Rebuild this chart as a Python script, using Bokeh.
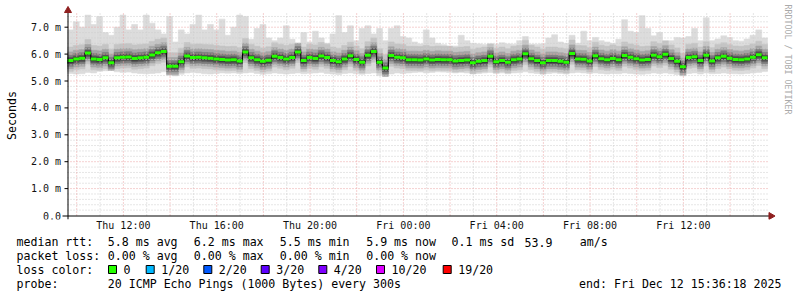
import numpy as np
from bokeh.plotting import figure
from bokeh.layouts import column
from bokeh.models import Range1d, FixedTicker
from bokeh.core.properties import value
from bokeh.embed import file_html
from bokeh.resources import INLINE

# ---------------- data ----------------
# 15-minute bins starting Thu 09:36:18, 30 hours, values in ms
median_rtt = [
    5.76, 5.82, 5.85, 6.04, 5.82, 5.80, 5.86, 5.68, 5.86, 5.88, 5.89, 5.84, 5.86, 5.88, 5.97,
    6.05, 6.10, 5.55, 5.55, 5.72, 5.93, 5.87, 5.88, 5.86, 5.85, 5.82, 5.80, 5.78, 5.79, 5.74,
    6.08, 5.86, 5.79, 5.73, 5.77, 5.92, 5.87, 5.82, 5.87, 6.08, 5.76, 5.87, 5.84, 5.93, 5.87,
    5.76, 5.72, 5.82, 5.94, 5.80, 5.70, 5.96, 6.10, 5.70, 5.48, 5.95, 5.88, 5.86, 5.79, 5.79,
    5.78, 5.82, 5.78, 5.80, 5.79, 5.79, 5.74, 5.76, 5.78, 5.68, 5.73, 5.76, 5.92, 5.72, 5.76,
    5.70, 5.79, 5.82, 6.01, 5.83, 5.76, 5.68, 5.76, 5.76, 5.73, 5.70, 6.02, 5.82, 5.81, 5.74,
    5.94, 5.83, 5.79, 5.84, 5.79, 5.95, 5.88, 5.83, 5.78, 5.80, 5.96, 5.90, 5.99, 5.84, 5.73,
    5.53, 5.87, 5.90, 5.76, 5.96, 5.74, 5.86, 5.92, 5.85, 5.80, 5.79, 5.82, 5.88, 5.98, 5.86,
]
max_rtt = [
    6.90, 7.20, 7.00, 7.45, 7.10, 7.40, 6.80, 6.70, 7.00, 7.45, 6.90, 7.10, 6.90, 7.45, 7.15,
    6.90, 6.75, 7.40, 6.45, 6.90, 6.75, 7.10, 7.45, 6.90, 7.10, 6.90, 7.30, 6.70, 7.00, 7.45,
    7.40, 6.55, 6.95, 7.10, 6.60, 6.50, 6.60, 7.05, 6.55, 6.40, 6.80, 6.45, 6.85, 6.60, 6.40,
    6.75, 7.43, 6.80, 7.05, 6.50, 6.95, 7.05, 6.75, 6.95, 6.50, 6.95, 7.05, 6.65, 6.60, 6.45,
    6.38, 6.90, 6.60, 6.40, 6.35, 6.30, 6.30, 6.70, 6.50, 6.40, 6.38, 6.36, 6.38, 6.37, 6.42,
    6.38, 6.37, 6.50, 6.65, 6.37, 6.37, 6.38, 6.60, 6.72, 6.45, 6.40, 6.70, 6.40, 6.85, 6.50,
    6.62, 6.50, 6.45, 6.40, 6.55, 7.28, 6.85, 6.80, 7.43, 6.95, 6.68, 6.80, 6.50, 6.50, 6.62,
    6.60, 6.65, 6.95, 6.50, 7.35, 6.50, 6.56, 6.68, 6.62, 6.50, 6.48, 6.56, 6.70, 6.90, 6.60,
]
min_rtt = [
    5.28, 5.26, 5.27, 5.32, 5.30, 5.36, 5.38, 5.40, 5.34, 5.32, 5.33, 5.30, 5.28, 5.27, 5.28,
    5.30, 5.34, 5.22, 5.20, 5.25, 5.30, 5.32, 5.30, 5.27, 5.26, 5.28, 5.30, 5.29, 5.30, 5.28,
    5.30, 5.32, 5.28, 5.25, 5.27, 5.30, 5.28, 5.26, 5.28, 5.30, 5.27, 5.29, 5.30, 5.32, 5.28,
    5.26, 5.24, 5.28, 5.30, 5.27, 5.25, 5.28, 5.30, 5.20, 5.18, 5.26, 5.30, 5.28, 5.30, 5.32,
    5.33, 5.30, 5.32, 5.34, 5.33, 5.32, 5.30, 5.32, 5.30, 5.26, 5.28, 5.30, 5.32, 5.28, 5.30,
    5.27, 5.30, 5.31, 5.34, 5.30, 5.28, 5.25, 5.28, 5.30, 5.28, 5.26, 5.30, 5.32, 5.30, 5.28,
    5.30, 5.28, 5.26, 5.28, 5.27, 5.30, 5.28, 5.26, 5.25, 5.27, 5.30, 5.28, 5.30, 5.27, 5.24,
    5.20, 5.28, 5.30, 5.26, 5.30, 5.27, 5.28, 5.30, 5.28, 5.27, 5.26, 5.28, 5.30, 5.32, 5.35,
]
x_tick_hours = [12, 16, 20, 24, 28, 32, 36]
x_tick_labels = ["Thu 12:00", "Thu 16:00", "Thu 20:00", "Fri 00:00", "Fri 04:00", "Fri 08:00", "Fri 12:00"]
y_tick_values = [0, 1, 2, 3, 4, 5, 6, 7]
y_tick_labels = ["0.0", "1.0 m", "2.0 m", "3.0 m", "4.0 m", "5.0 m", "6.0 m", "7.0 m"]

loss_names = ["0", "1/20", "2/20", "3/20", "4/20", "10/20", "19/20"]
loss_colors = ["#26ff00", "#00b8ff", "#0059ff", "#5e00ff", "#7e00ff", "#dd00ff", "#ff0000"]

row1 = ["median rtt:", "5.8 ms avg", "6.2 ms max", "5.5 ms min", "5.9 ms now", "0.1 ms sd", "53.9", "am/s"]
row2 = ["packet loss:", "0.00 % avg", "0.00 % max", "0.00 % min", "0.00 % now"]
loss_label = "loss color:"
probe_label = "probe:"
probe_text = "20 ICMP Echo Pings (1000 Bytes) every 300s"
end_text = "end: Fri Dec 12 15:36:18 2025"
y_title = "Seconds"
credit = "RRDTOOL / TOBI OETIKER"

# ---------------- layout / style constants ----------------
start_h = 9 + 36 / 60 + 18 / 3600      # Thu 09:36:18 in hours since Thu 00:00
step_h = 0.25
PX_H = 700 / 30.0                        # pixels per hour
PX_U = 26.9                              # pixels per ms
X0, Y0 = 67, 215                         # pixel of (start, 0)
MONO = "DejaVu Sans Mono"
ARROW = "#8f1f1f"
MAJOR = "#eba3a3"
MINOR = "#cdcdcd"


def xd(X):
    return start_h + (X - X0) / PX_H


def yd(Y):
    return (Y0 - Y) / PX_U


med = np.array(median_rtt)
hi = np.array(max_rtt)
lo = np.array(min_rtt)
t0 = start_h + step_h * np.arange(len(med))
t1 = t0 + step_h

# ---------------- main chart ----------------
p = figure(width=797, height=234, output_backend="svg", toolbar_location=None,
           x_range=Range1d(xd(0), xd(797)), y_range=Range1d(yd(219), yd(0)),
           y_axis_location=None,
           min_border=0, min_border_left=0, min_border_right=0, min_border_top=0,
           min_border_bottom=15)
p.outline_line_color = None
p.background_fill_color = "white"
p.border_fill_color = "white"
p.xgrid.visible = False
p.ygrid.visible = False

# smoke: outer envelope then darker shading around the median
p.quad(left=t0, right=t1, bottom=lo, top=hi, fill_color="#dcdcdc", line_color="#dcdcdc",
       line_width=0.6, level="image")
shades = [(0.40, 0.50, "#c4c4c4"), (0.30, 0.32, "#a4a4a4"), (0.21, 0.20, "#7c7c7c"),
          (0.13, 0.11, "#555555"), (0.07, 0.05, "#333333")]
for dn, up, col in shades:
    p.quad(left=t0, right=t1, bottom=np.maximum(lo, med - dn), top=np.minimum(hi, med + up),
           fill_color=col, line_color=col, line_width=0.6, level="image")

# rrdtool-style dotted grid (drawn over the smoke)
hours = np.arange(10, 40)
vmaj = hours[hours % 2 == 0]
vmin = hours[hours % 2 == 1]
hmaj = np.array(y_tick_values[1:], dtype=float)
hmin = np.array([round(i * 0.2, 1) for i in range(1, 38) if i % 5])
g_top, g_left, g_right = yd(11), xd(67), xd(768)
p.segment(x0=vmin, x1=vmin, y0=0, y1=g_top, line_color=MINOR, line_dash="1 2", level="underlay")
p.segment(x0=g_left, x1=g_right, y0=hmin, y1=hmin, line_color=MINOR, line_dash="1 2", level="underlay")
p.segment(x0=vmaj, x1=vmaj, y0=0, y1=g_top, line_color=MAJOR, line_dash="1 2", level="underlay")
p.segment(x0=g_left, x1=g_right, y0=hmaj, y1=hmaj, line_color=MAJOR, line_dash="1 2", level="underlay")

# median: dark connectors and loss-coloured steps
p.segment(x0=t1[:-1], x1=t1[:-1], y0=med[:-1], y1=med[1:], line_color="black", line_width=1)
p.segment(x0=t0, x1=t1, y0=med, y1=med, line_color=loss_colors[0], line_width=3)

# axis lines, y ticks and arrow heads
p.segment(x0=[xd(62), xd(67.5)], x1=[xd(769), xd(67.5)], y0=[yd(215.5), yd(219)],
          y1=[yd(215.5), yd(11)], line_color="black", line_width=1)
yt = np.array(y_tick_values[1:], dtype=float)
p.segment(x0=xd(64), x1=xd(67.5), y0=yt, y1=yt, line_color="black", line_width=1)
p.scatter(x=[xd(770.5), xd(67.5)], y=[yd(215.5), yd(10)], marker="triangle", size=7,
          angle=[-np.pi / 2, 0.0], fill_color=ARROW, line_color=ARROW)

# y tick labels and titles
p.text(x=xd(60.5), y=np.array(y_tick_values, dtype=float), text=y_tick_labels, text_align="right",
       text_baseline="middle", text_font=value(MONO), text_font_size=value("10px"),
       text_color="#111111")
p.text(x=[xd(11)], y=[yd(115)], text=[y_title], angle=np.pi / 2, text_align="center",
       text_baseline="middle", text_font=value(MONO), text_font_size=value("11.6px"),
       text_color="black")
p.text(x=[xd(787)], y=[yd(4)], text=[credit], angle=-np.pi / 2, text_align="left",
       text_baseline="middle", text_font=value(MONO), text_font_size=value("8.3px"),
       text_color="#aaaaaa")

# x axis (tick labels)
xa = p.xaxis[0]
xa.ticker = FixedTicker(ticks=x_tick_hours)
xa.major_label_overrides = dict(zip(x_tick_hours, x_tick_labels))
xa.major_tick_out = 0
xa.major_tick_in = 0
xa.major_label_standoff = 0
xa.axis_line_color = None
xa.minor_tick_line_color = None
xa.major_label_text_font = MONO
xa.major_label_text_font_size = "10px"
xa.major_label_text_color = "#111111"

# ---------------- legend block below ----------------
q = figure(width=797, height=63, output_backend="svg", toolbar_location=None,
           x_range=Range1d(0, 797), y_range=Range1d(297, 234),
           x_axis_location=None, y_axis_location=None,
           min_border=0, min_border_left=0, min_border_right=0, min_border_top=0,
           min_border_bottom=0)
q.outline_line_color = None
q.xgrid.visible = False
q.ygrid.visible = False
q.background_fill_color = "white"
q.border_fill_color = "white"

rows_y = [241.7, 255.3, 269.0, 283.3]
r1x = [16, 107.3, 193.3, 279.3, 365.7, 451, 524, 579.3]
r2x = [16, 107.3, 193.3, 279.3, 365.7]
box_x = [108, 145.7, 203.3, 260.7, 318.3, 376, 442.7]

tx = r1x + r2x + [16] + [b + 15 for b in box_x] + [16, 107.3]
ty = ([rows_y[0]] * len(row1) + [rows_y[1]] * len(row2) + [rows_y[2]] * (1 + len(loss_names))
      + [rows_y[3]] * 2)
tt = row1 + row2 + [loss_label] + loss_names + [probe_label, probe_text]
q.text(x=tx, y=ty, text=tt, text_align="left", text_baseline="middle",
       text_font=value(MONO), text_font_size=value("11.6px"), text_color="black")
q.text(x=[781], y=[rows_y[3]], text=[end_text], text_align="right", text_baseline="middle",
       text_font=value(MONO), text_font_size=value("11.6px"), text_color="black")
bx = np.array(box_x)
q.quad(left=bx, right=bx + 8, top=rows_y[2] - 4, bottom=rows_y[2] + 4, fill_color=loss_colors,
       line_color="black", line_width=1)

open("out.html", "w").write(file_html(column(p, q, spacing=0), INLINE))
